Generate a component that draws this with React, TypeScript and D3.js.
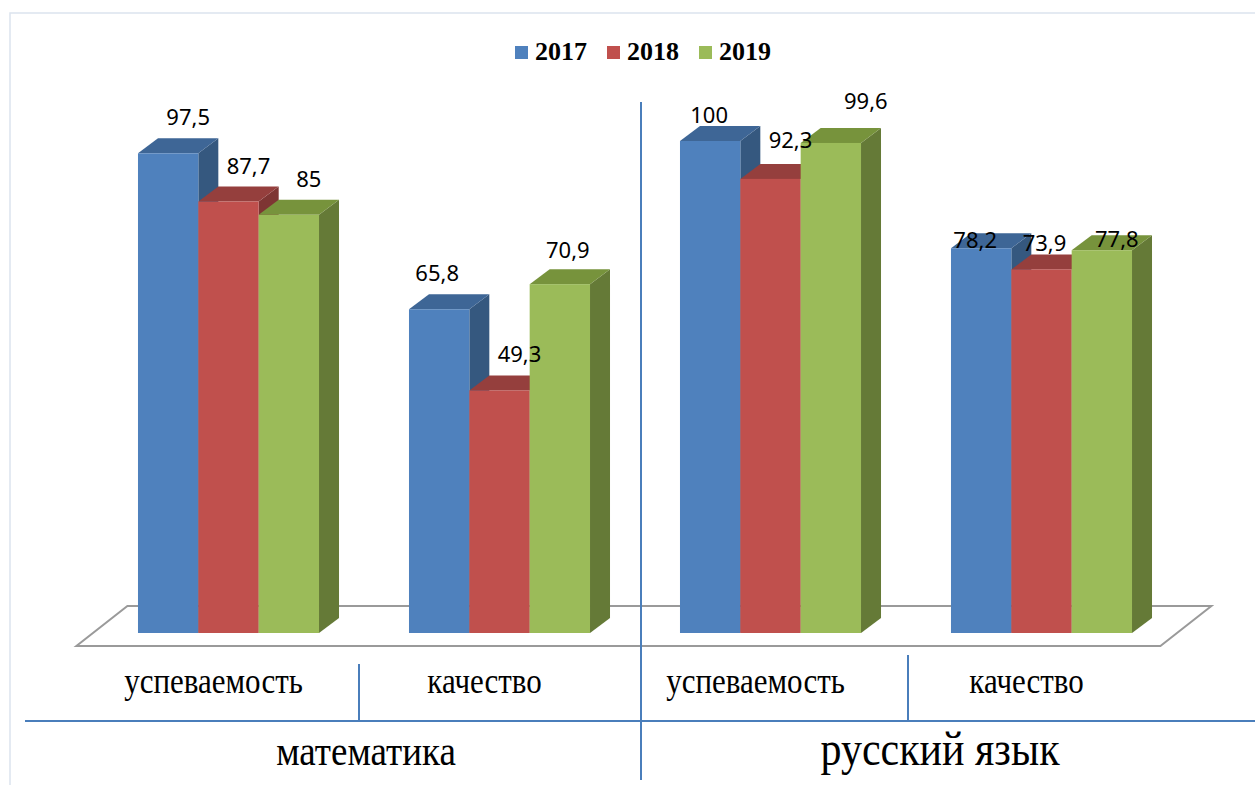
import React, { useEffect, useRef } from "react";
import * as d3 from "d3";

// chart values
const years = ["2017", "2018", "2019"];
const categories = ["успеваемость", "качество", "успеваемость", "качество"];
const subjects = ["математика", "русский язык"];
const values2017 = [97.5, 65.8, 100, 78.2];
const values2018 = [87.7, 49.3, 92.3, 73.9];
const values2019 = [85, 70.9, 99.6, 77.8];

const seriesValues = [values2017, values2018, values2019];
const colors = ["#4f81bd", "#c0504d", "#9bbb59"];
const topColors = ["#3e6696", "#953f3d", "#77933c"];
const sideColors = ["#35587f", "#7e3533", "#657a37"];

// label nudges [category][series] -> [dx, dy], the way the original placed them
const labelNudge = [
  [[0, 0], [0, 0], [0, 0]],
  [[-22, 0], [0, 0], [-12, 2]],
  [[-21, 10], [0, -3], [15, -6]],
  [[-26, 28], [-17, 10], [-5, 25]],
];

const fmt = (v: number) => String(v).replace(".", ",");

const App = () => {
  const ref = useRef<SVGSVGElement>(null);

  useEffect(() => {
    const width = 1255,
      height = 785;
    const svg = d3.select(ref.current);
    svg.selectAll("*").remove();

    // depth of the 3d bars and of the floor
    const dx = 20,
      dy = -15;
    const floorBottom = 633;

    const x = d3
      .scaleBand()
      .domain(categories.map((_, i) => String(i)))
      .range([93, 1177])
      .paddingInner(0.332)
      .paddingOuter(0.166);

    const xSub = d3.scaleBand().domain(years).range([0, x.bandwidth()]);

    const y = d3.scaleLinear().domain([0, 100]).range([floorBottom, 141]);

    // faint outer frame
    svg
      .append("path")
      .attr("d", `M10,${height} V13 H${width}`)
      .attr("fill", "none")
      .attr("stroke", "#dce4ee")
      .attr("stroke-width", 1.5);

    // floor
    const [r0, r1] = x.range();
    const fx = 16.6,
      fy = 13;
    svg
      .append("polygon")
      .attr(
        "points",
        [
          [r0 - fx, floorBottom + fy],
          [r1 - fx, floorBottom + fy],
          [r1 - fx + 51, floorBottom + fy - 40],
          [r0 - fx + 51, floorBottom + fy - 40],
        ]
          .map((p) => p.join(","))
          .join(" ")
      )
      .attr("fill", "none")
      .attr("stroke", "#9a9a9a")
      .attr("stroke-width", 2);

    // bars, drawn left to right so that neighbours hide the side faces
    const bars = svg.append("g");
    const labels = svg.append("g");
    categories.forEach((_, ci) => {
      years.forEach((yr, si) => {
        const v = seriesValues[si][ci];
        const x0 = x(String(ci))! + xSub(yr)!;
        const x1 = x0 + xSub.bandwidth();
        const yt = y(v);
        const yb = y(0);
        const pts = (p: number[][]) => p.map((q) => q.join(",")).join(" ");
        bars
          .append("polygon")
          .attr("points", pts([[x1, yt], [x1 + dx, yt + dy], [x1 + dx, yb + dy], [x1, yb]]))
          .attr("fill", sideColors[si]);
        bars
          .append("polygon")
          .attr("points", pts([[x0, yt], [x1, yt], [x1 + dx, yt + dy], [x0 + dx, yt + dy]]))
          .attr("fill", topColors[si]);
        bars
          .append("rect")
          .attr("x", x0)
          .attr("y", yt)
          .attr("width", x1 - x0)
          .attr("height", yb - yt)
          .attr("fill", colors[si]);

        const [nx, ny] = labelNudge[ci][si];
        labels
          .append("text")
          .attr("x", (x0 + x1) / 2 + dx + nx)
          .attr("y", yt + dy - 13 + ny)
          .attr("text-anchor", "middle")
          .attr("font-family", "'Noto Sans', sans-serif")
          .attr("font-size", 22)
          .attr("fill", "#000")
          .text(fmt(v));
      });
    });

    // legend
    const legend = svg.append("g");
    years.forEach((yr, i) => {
      const lx = 515 + i * 92;
      legend
        .append("rect")
        .attr("x", lx)
        .attr("y", 46)
        .attr("width", 13)
        .attr("height", 13)
        .attr("fill", colors[i]);
      legend
        .append("text")
        .attr("x", lx + 20)
        .attr("y", 60)
        .attr("font-family", "'Liberation Serif', serif")
        .attr("font-weight", "bold")
        .attr("font-size", 26)
        .attr("fill", "#000")
        .text(yr);
    });

    // category axis with two levels
    const lineColor = "#4a7ebb";
    const axis = svg.append("g");
    categories.forEach((c, ci) => {
      const cx = x(String(ci))! + x.bandwidth() / 2 - 15;
      axis
        .append("text")
        .attr("transform", `translate(${cx},693) scale(1,1.15)`)
        .attr("text-anchor", "middle")
        .attr("font-family", "'Liberation Serif', serif")
        .attr("font-size", 31)
        .attr("fill", "#000")
        .text(c);
    });
    axis
      .append("line")
      .attr("x1", 25)
      .attr("x2", width)
      .attr("y1", 721)
      .attr("y2", 721)
      .attr("stroke", lineColor)
      .attr("stroke-width", 2);
    axis
      .append("line")
      .attr("x1", 641)
      .attr("x2", 641)
      .attr("y1", 102)
      .attr("y2", 780)
      .attr("stroke", lineColor)
      .attr("stroke-width", 2);
    [
      [359, 664],
      [908, 655],
    ].forEach(([lx, ly]) => {
      axis
        .append("line")
        .attr("x1", lx)
        .attr("x2", lx)
        .attr("y1", ly)
        .attr("y2", 721)
        .attr("stroke", lineColor)
        .attr("stroke-width", 2);
    });
    subjects.forEach((s, i) => {
      axis
        .append("text")
        .attr("transform", `translate(${i === 0 ? 366 : 940},765) scale(1,1.15)`)
        .attr("text-anchor", "middle")
        .attr("font-family", "'Liberation Serif', serif")
        .attr("font-size", i === 0 ? 37 : 42)
        .attr("fill", "#000")
        .text(s);
    });
  }, []);

  return (
    <div style={{ position: "absolute", left: 0, top: 0 }}>
      <svg ref={ref} width={1255} height={785} style={{ display: "block", background: "#fff" }}></svg>
    </div>
  );
};

export default App;
